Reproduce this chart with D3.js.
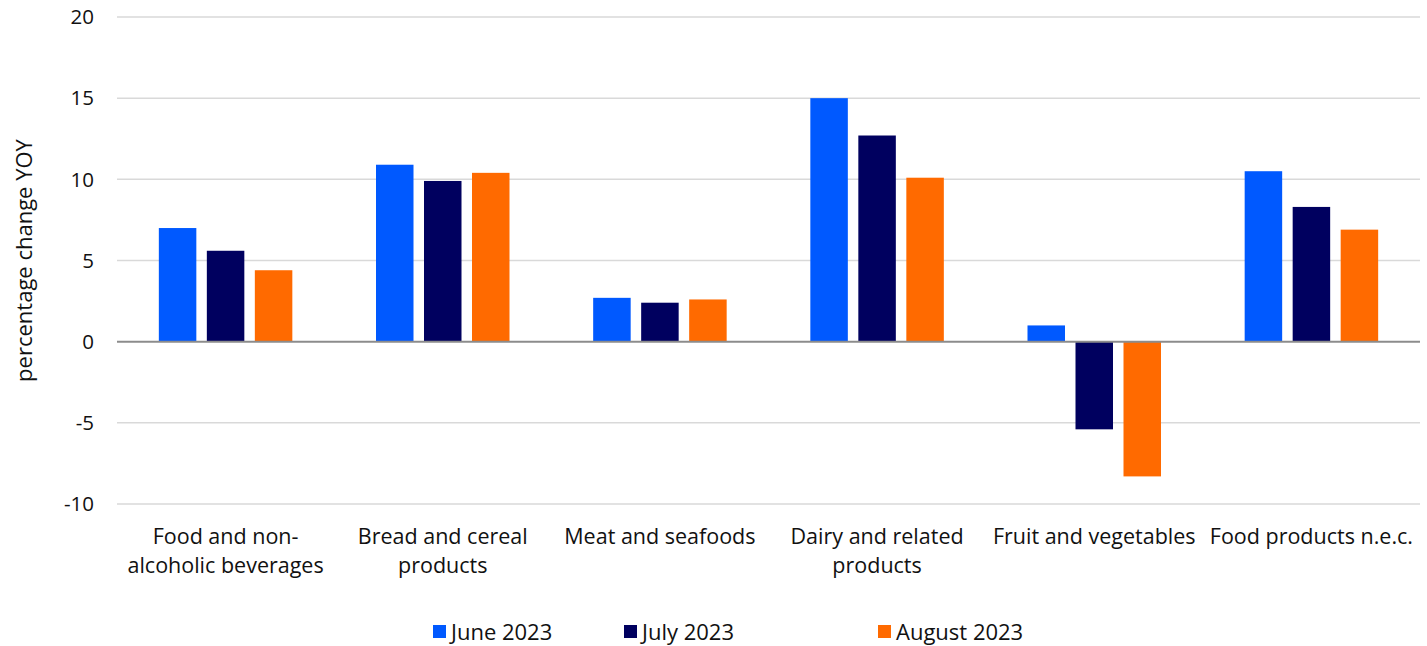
<!DOCTYPE html>
<html>
<head>
<meta charset="utf-8">
<script src="https://cdn.jsdelivr.net/npm/d3@7"></script>
<style>
  html, body { margin: 0; padding: 0; background: #fff; }
  svg { display: block; font-family: "Open Sans", "Noto Sans", sans-serif; }
</style>
</head>
<body>
<svg id="chart" width="1427" height="646"></svg>
<script>
// Food price categories, year-on-year percentage change
const categories = [
  ["Food and non-", "alcoholic beverages"],
  ["Bread and cereal", "products"],
  ["Meat and seafoods"],
  ["Dairy and related", "products"],
  ["Fruit and vegetables"],
  ["Food products n.e.c."]
];
const seriesNames = ["June 2023", "July 2023", "August 2023"];
const june2023   = [7.0, 10.9, 2.7, 15.0, 1.0, 10.5];
const july2023   = [5.6, 9.9, 2.4, 12.7, -5.4, 8.3];
const august2023 = [4.4, 10.4, 2.6, 10.1, -8.3, 6.9];
const yTicks = [-10, -5, 0, 5, 10, 15, 20];
const colors = ["#0059ff", "#00005f", "#ff6a00"];

const series = [june2023, july2023, august2023];
const svg = d3.select("#chart");

const plot = { left: 117, right: 1420, top: 17, bottom: 504 };

const x = d3.scaleBand()
  .domain(d3.range(categories.length))
  .range([plot.left, plot.right])
  .paddingInner(0)
  .paddingOuter(0);

const y = d3.scaleLinear().domain([-10, 20]).range([plot.bottom, plot.top]);

const bandW = x.bandwidth();
const barW = 37.5, barGap = 10.5;
const groupW = barW * 3 + barGap * 2;

// gridlines
svg.append("g")
  .selectAll("line")
  .data(yTicks.filter(t => t !== 0))
  .join("line")
  .attr("x1", plot.left).attr("x2", plot.right)
  .attr("y1", d => y(d)).attr("y2", d => y(d))
  .attr("stroke", "#d9d9d9").attr("stroke-width", 1.5);

// y tick labels
svg.append("g")
  .selectAll("text")
  .data(yTicks)
  .join("text")
  .attr("x", 94)
  .attr("y", d => y(d))
  .attr("dy", "0.35em")
  .attr("text-anchor", "end")
  .attr("font-size", 20.5)
  .attr("fill", "#111")
  .text(d => d);

// y axis title
svg.append("text")
  .attr("transform", `translate(32,${(plot.top + plot.bottom) / 2}) rotate(-90)`)
  .attr("text-anchor", "middle")
  .attr("font-size", 22)
  .attr("fill", "#111")
  .text("percentage change YOY");

// bars
series.forEach((vals, s) => {
  svg.append("g")
    .selectAll("rect")
    .data(vals)
    .join("rect")
    .attr("x", (d, i) => x(i) + (bandW - groupW) / 2 + s * (barW + barGap))
    .attr("width", barW)
    .attr("y", d => y(Math.max(0, d)))
    .attr("height", d => Math.abs(y(d) - y(0)))
    .attr("fill", colors[s]);
});

// zero line
svg.append("line")
  .attr("x1", plot.left).attr("x2", plot.right)
  .attr("y1", y(0)).attr("y2", y(0))
  .attr("stroke", "#8c8c8c").attr("stroke-width", 2);

// category labels
const xl = svg.append("g")
  .selectAll("text")
  .data(categories)
  .join("text")
  .attr("x", (d, i) => x(i) + bandW / 2)
  .attr("y", 544)
  .attr("text-anchor", "middle")
  .attr("font-size", 21.5)
  .attr("fill", "#111");
xl.selectAll("tspan")
  .data(d => d)
  .join("tspan")
  .attr("x", function () { return d3.select(this.parentNode).attr("x"); })
  .attr("dy", (d, i) => i === 0 ? 0 : 29)
  .text(d => d);

// legend
const legendX = [433, 624, 878];
const lg = svg.append("g")
  .selectAll("g")
  .data(seriesNames)
  .join("g")
  .attr("transform", (d, i) => `translate(${legendX[i]},632)`);
lg.append("rect")
  .attr("x", 0).attr("y", -7)
  .attr("width", 13).attr("height", 13)
  .attr("fill", (d, i) => colors[i]);
lg.append("text")
  .attr("x", 18)
  .attr("y", 0)
  .attr("dy", "0.35em")
  .attr("font-size", 22)
  .attr("fill", "#111")
  .text(d => d);
</script>
</body>
</html>
